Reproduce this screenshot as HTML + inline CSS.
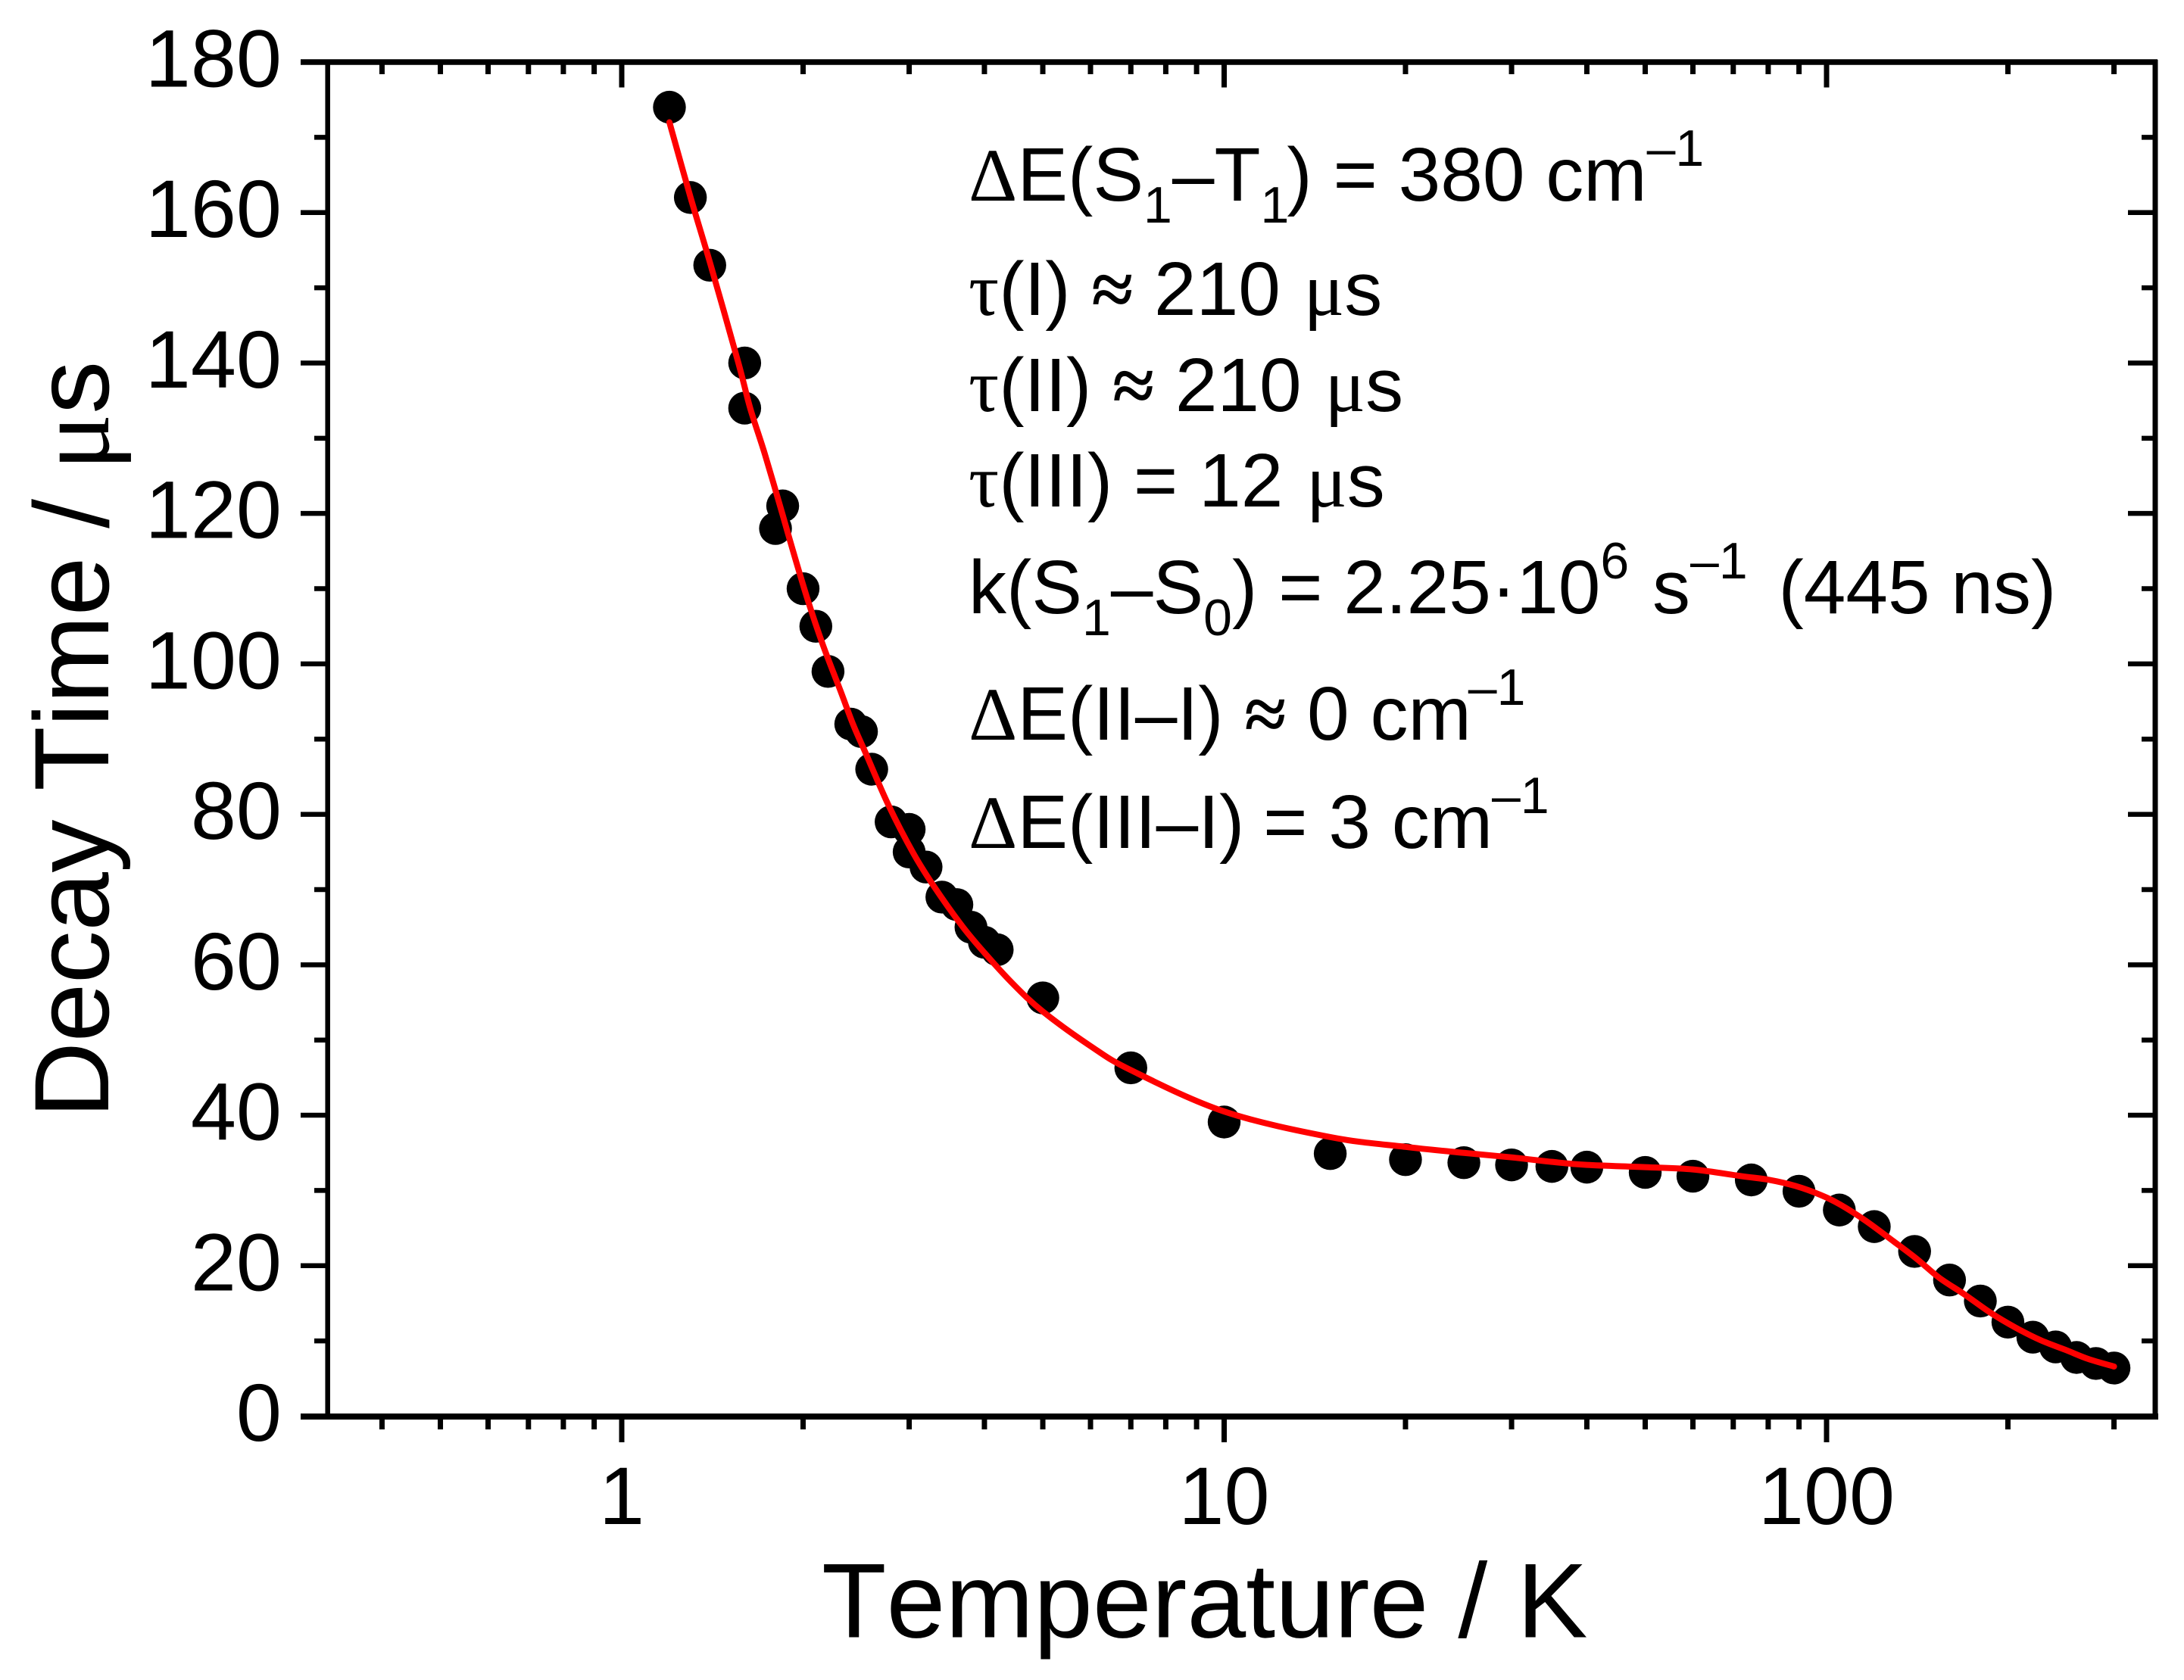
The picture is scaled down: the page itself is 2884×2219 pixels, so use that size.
<!DOCTYPE html>
<html lang="en">
<head>
<meta charset="utf-8">
<title>Decay Time vs Temperature</title>
<style>
html,body{margin:0;padding:0;background:#fff;}
svg{display:block;}
text{font-family:"Liberation Sans",Arial,sans-serif;fill:#000;font-kerning:none;}
.tick-label{font-size:108px;}
.axis-title{font-size:140px;}
.y-title{letter-spacing:-0.6px;}
.note{font-size:100px;}
.gr{font-family:"Liberation Serif","DejaVu Serif",serif;}
.ap{font-family:"Liberation Serif","DejaVu Serif",serif;font-weight:bold;}
.ss{font-size:68px;}
</style>
</head>
<body>
<svg id="chart" xmlns="http://www.w3.org/2000/svg" width="2884" height="2219" viewBox="0 0 2884 2219">
  <rect x="0" y="0" width="2884" height="2219" fill="#fff"/>
  <g id="ticks"></g>
  <g id="tick-labels"></g>
  <g id="points"></g>
  <path id="fit" fill="none" stroke="#ff0000" stroke-width="8" stroke-linecap="round" stroke-linejoin="round"/>
  <g id="frame"></g>

  <text class="axis-title" x="1085" y="2162.5">Temperature / K</text>
  <text class="axis-title y-title" transform="translate(143,1477) rotate(-90)">Decay Time / <tspan class="gr">μ</tspan>s</text>

  <g>
    <text class="note" x="1279" y="265"><tspan class="gr">Δ</tspan>E(S<tspan class="ss" dy="29">1</tspan><tspan dy="-29">–T</tspan><tspan class="ss" dy="29">1</tspan><tspan dy="-29" dx="-3">) = 380 cm</tspan><tspan class="ss" dy="-46">–1</tspan></text>
    <text class="note" x="1279" y="416"><tspan class="gr">τ</tspan>(I) <tspan class="ap">≈</tspan> 210 <tspan class="gr" dx="3">μ</tspan>s</text>
    <text class="note" x="1279" y="543"><tspan class="gr">τ</tspan>(II) <tspan class="ap">≈</tspan> 210 <tspan class="gr" dx="3">μ</tspan>s</text>
    <text class="note" x="1279" y="669"><tspan class="gr">τ</tspan>(III) = 12 <tspan class="gr" dx="3">μ</tspan>s</text>
    <text class="note" x="1279" y="810">k(S<tspan class="ss" dy="29">1</tspan><tspan dy="-29">–S</tspan><tspan class="ss" dy="29">0</tspan><tspan dy="-29">) = 2.25·10</tspan><tspan class="ss" dy="-46">6</tspan><tspan dy="46" dx="3"> s</tspan><tspan class="ss" dy="-46">–1</tspan><tspan dy="46" dx="13"> (445 ns)</tspan></text>
    <text class="note" x="1279" y="977"><tspan class="gr">Δ</tspan>E(II–I) <tspan class="ap">≈</tspan> 0 cm<tspan class="ss" dy="-46" dx="-4">–1</tspan></text>
    <text class="note" x="1279" y="1120"><tspan class="gr">Δ</tspan>E(III–I)<tspan dx="-3"> = 3 cm</tspan><tspan class="ss" dy="-46" dx="-1">–1</tspan></text>
  </g>
</svg>
<script>
// Measured data (temperature in K, decay time in microseconds)
const tempK = [1.2,1.3,1.4,1.6,1.6,1.8,1.85,2,2.1,2.2,2.4,2.5,2.6,2.8,3,3,3.2,3.4,3.6,3.8,4,4.2,5,7,10,15,20,25,30,35,40,50,60,75,90,105,120,140,160,180,200,220,240,260,280,300];
const decayUs = [174,162,153,140,134,118,121,110,105,99,92,91,86,79,78,75,73,69,68,65,63,62,55.6,46.3,39.1,34.9,34.1,33.7,33.4,33.2,33.1,32.4,31.9,31.4,29.9,27.4,25.2,21.9,18.1,15.3,12.5,10.5,9.2,7.8,7,6.4];
// Fit curve
const fitTempK = [1.2,1.3,1.404,1.562,1.634,1.728,1.85,1.92,2.036,2.158,2.308,2.423,2.542,2.773,3.05,3.3,3.67,4,4.47,5,6,7,10,15,20,25,30,35,40,50,60,72.3,80.5,88.8,97.8,105.5,116,129.4,141.2,153.8,169.3,186.7,205.6,226.6,249.5,272,300];
const fitDecayUs = [172,162.1,153.1,140,134,127.9,119.8,115.3,108.5,102.5,96.4,91.9,88.1,81.2,74.8,70.4,65.2,61.6,57.4,53.8,49.2,46,40.5,37.1,35.8,35,34.4,33.8,33.4,33.1,32.8,31.9,31.4,30.6,29.4,28.1,26,23.2,20.9,18.4,16.2,13.8,11.8,10.1,8.8,7.6,6.6];
// Axis ticks
const yMajorTicks = [0,20,40,60,80,100,120,140,160,180];
const yMinorTicks = [10,30,50,70,90,110,130,150,170];
const xMajorTicks = [1,10,100];
const xMajorLabels = ["1","10","100"];
const xMinorTicks = [0.4,0.5,0.6,0.7,0.8,0.9,2,3,4,5,6,7,8,9,20,30,40,50,60,70,80,90,200,300];

const SVGNS = "http://www.w3.org/2000/svg";
const x = t => 821 + 795.5 * Math.log10(t);
const y = v => 1870.5 - 9.936 * v;
const L = 432.7, R = 2846, T = 82, B = 1871;

function make(tag, attrs, parent){
  const el = document.createElementNS(SVGNS, tag);
  for (const k in attrs) el.setAttribute(k, attrs[k]);
  parent.appendChild(el);
  return el;
}
const ticks = document.getElementById("ticks");
const labels = document.getElementById("tick-labels");
const points = document.getElementById("points");
const frame = document.getElementById("frame");

function tick(x1, y1, x2, y2, w, name){
  const el = make("line", {x1, y1, x2, y2, stroke:"#000", "stroke-width":w}, ticks);
  
  
}
yMajorTicks.forEach(v => {
  tick(397, y(v), L, y(v), 6.5, "y-major-tick-left");
  tick(R, y(v), 2810, y(v), 6.5, "y-major-tick-right");
  const t = make("text", {x:372, y:y(v)+32.5, "text-anchor":"end", class:"tick-label"}, labels);
  t.textContent = String(v);
  
  
});
yMinorTicks.forEach(v => {
  tick(415, y(v), L, y(v), 6.5, "y-minor-tick-left");
  tick(R, y(v), 2828, y(v), 6.5, "y-minor-tick-right");
});
xMajorTicks.forEach((v, i) => {
  tick(x(v), B, x(v), 1905, 7, "x-major-tick-bottom");
  tick(x(v), T, x(v), 115.5, 7, "x-major-tick-top");
  const t = make("text", {x:x(v), y:2013, "text-anchor":"middle", class:"tick-label"}, labels);
  t.textContent = xMajorLabels[i];
  
  
});
xMinorTicks.forEach(v => {
  tick(x(v), B, x(v), 1888, 7, "x-minor-tick-bottom");
  tick(x(v), T, x(v), 98, 7, "x-minor-tick-top");
});

tempK.forEach((t, i) => {
  const c = make("circle", {cx:x(t), cy:y(decayUs[i]), r:21.7, fill:"#000"}, points);
  
  
});

// Smooth curve through the fit samples (Catmull-Rom)
const pts = fitTempK.map((t, i) => [x(t), y(fitDecayUs[i])]);
let d = "M" + pts[0][0] + " " + pts[0][1];
for (let i = 0; i < pts.length - 1; i++){
  const p0 = pts[Math.max(i-1,0)], p1 = pts[i], p2 = pts[i+1], p3 = pts[Math.min(i+2,pts.length-1)];
  d += " C" + (p1[0]+(p2[0]-p0[0])/6) + " " + (p1[1]+(p2[1]-p0[1])/6) + " "
       + (p2[0]-(p3[0]-p1[0])/6) + " " + (p2[1]-(p3[1]-p1[1])/6) + " " + p2[0] + " " + p2[1];
}
document.getElementById("fit").setAttribute("d", d);

const spines = [
  ["left-spine", L, T-3, L, B, 6.5],
  ["right-spine", R, T-3, R, B, 7],
  ["top-spine", 397, T, R+3, T, 7.5],
  ["bottom-spine", 397, B, 2850, B, 8]
];
spines.forEach(s => {
  const el = make("line", {x1:s[1], y1:s[2], x2:s[3], y2:s[4], stroke:"#000", "stroke-width":s[5]}, frame);
  
  
});
</script>
</body>
</html>
